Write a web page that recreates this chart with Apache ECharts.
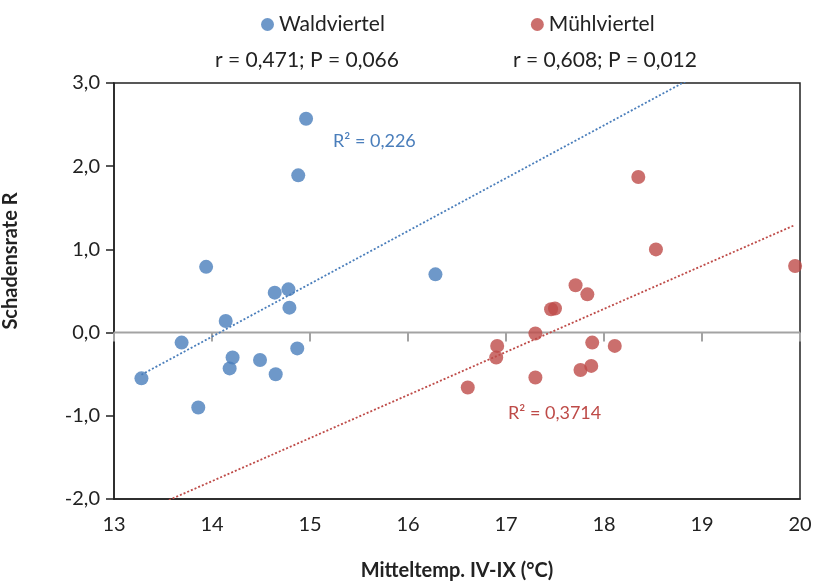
<!DOCTYPE html>
<html>
<head>
<meta charset="utf-8">
<script src="https://cdn.jsdelivr.net/npm/echarts@6/dist/echarts.min.js"></script>
<style>
  html, body { margin: 0; padding: 0; background: #fff; }
  #chart { width: 819px; height: 587px; }
</style>
</head>
<body>
<div id="chart"></div>
<script>
// Waldviertel: mean temp IV-IX vs damage rate
const waldX = [14.96, 14.88, 13.94, 16.28, 14.64, 14.78, 14.79, 14.14, 13.69, 14.21, 14.18, 14.49, 14.87, 14.65, 13.28, 13.86]
const waldY = [2.57, 1.89, 0.79, 0.70, 0.48, 0.52, 0.30, 0.14, -0.12, -0.30, -0.43, -0.33, -0.19, -0.50, -0.55, -0.90]
// Mühlviertel
const muehlX = [18.35, 18.53, 19.95, 17.71, 17.83, 17.46, 17.50, 17.30, 17.88, 18.11, 16.91, 16.90, 17.30, 17.76, 17.87, 16.61]
const muehlY = [1.87, 1.00, 0.80, 0.57, 0.46, 0.28, 0.29, -0.01, -0.12, -0.16, -0.16, -0.30, -0.54, -0.45, -0.40, -0.66]

const seriesNames = ['Waldviertel', 'Mühlviertel']
const statTexts = ['r = 0,471; P = 0,066', 'r = 0,608; P = 0,012']
const r2Texts = ['R² = 0,226', 'R² = 0,3714']
const xTicks = [13, 14, 15, 16, 17, 18, 19, 20]
const yTicks = [-2, -1, 0, 1, 2, 3]

const BLUE = '#4a7ebb'
const RED = '#be4b48'
const ZERO = '#a3a3a3'
const FONT = 'Lato'

function pairs (xs, ys) {
    return xs.map((x, i) => [x, ys[i]])
}

// least squares fit, Excel style trend line
function fit (xs, ys) {
    const n = xs.length
    const mx = xs.reduce((a, b) => a + b, 0) / n
    const my = ys.reduce((a, b) => a + b, 0) / n
    let sxy = 0
    let sxx = 0
    xs.forEach((x, i) => {
        sxy += (x - mx) * (ys[i] - my)
        sxx += (x - mx) * (x - mx)
    })
    const k = sxy / sxx
    return x => my + k * (x - mx)
}

const xMin = xTicks[0]
const xMax = xTicks[xTicks.length - 1]
const yMin = yTicks[0]
const yMax = yTicks[yTicks.length - 1]
const fWald = fit(waldX, waldY)
const fMuehl = fit(muehlX, muehlY)
// blue forecast forward to axis end, red backward to axis start
const waldStart = Math.min(...waldX)
const muehlEnd = Math.max(...muehlX)
const waldTrend = [[waldStart, fWald(waldStart)], [xMax, fWald(xMax)]]
const muehlTrend = [[xMin, fMuehl(xMin)], [muehlEnd, fMuehl(muehlEnd)]]

const comma = v => v.toFixed(1).replace('.', ',')

const chart = echarts.init(document.getElementById('chart'), null, { renderer: 'canvas' })

const option = {
    backgroundColor: '#fff',
    animation: false,
    textStyle: { fontFamily: FONT },
    grid: {
        left: 114, right: 19, top: 83, bottom: 88,
        show: true, borderColor: '#222', borderWidth: 1.5
    },
    legend: {
        data: seriesNames,
        left: 256,
        top: 9,
        icon: 'circle',
        itemWidth: 13,
        itemHeight: 13,
        itemGap: 146,
        textStyle: { fontFamily: FONT, fontSize: 21, color: '#222' }
    },
    xAxis: [{
        type: 'value',
        min: xMin,
        max: xMax,
        interval: 1,
        position: 'bottom',
        axisLine: { onZero: false, lineStyle: { color: '#222', width: 1.5 } },
        axisTick: { show: false },
        splitLine: { show: false },
        axisLabel: { margin: 16, fontSize: 20, color: '#222', fontFamily: FONT },
        name: 'Mitteltemp. IV-IX (°C)',
        nameLocation: 'middle',
        nameGap: 62,
        nameTextStyle: { fontSize: 20, fontWeight: 'bold', color: '#222', fontFamily: FONT }
    }],
    yAxis: {
        type: 'value',
        min: yMin,
        max: yMax,
        interval: 1,
        axisLine: { show: true, onZero: false, lineStyle: { color: '#222', width: 1.5 } },
        axisTick: { show: true, length: 8, lineStyle: { color: '#222', width: 1.5 } },
        splitLine: { show: false },
        axisLabel: { margin: 14, fontSize: 20, color: '#222', fontFamily: FONT, formatter: comma }
    },
    graphic: [
        {
            type: 'text', left: 215, top: 50,
            style: { text: statTexts[0], font: '21px ' + FONT, fill: '#222' }
        },
        {
            type: 'text', left: 513, top: 50,
            style: { text: statTexts[1], font: '21px ' + FONT, fill: '#222' }
        },
        {
            type: 'text', left: 333, top: 132,
            style: { text: r2Texts[0], font: '18px ' + FONT, fill: BLUE }
        },
        {
            type: 'text', left: 508, top: 404,
            style: { text: r2Texts[1], font: '18px ' + FONT, fill: RED }
        },
        {
            type: 'text', x: 11, y: 261, rotation: Math.PI / 2,
            style: {
                text: 'Schadensrate R', font: 'bold 20px ' + FONT, fill: '#222',
                align: 'center', verticalAlign: 'middle'
            }
        }
    ],
    series: [
        {
            // horizontal axis crossing at y = 0, with its tick marks
            name: 'zero-axis',
            type: 'custom',
            silent: true,
            data: xTicks.map(t => [t, 0]),
            renderItem (params, api) {
                const p = api.coord([api.value(0), 0])
                const children = [{
                    type: 'rect',
                    shape: { x: p[0] - 1, y: p[1], width: 2, height: 9 },
                    style: { fill: ZERO }
                }]
                if (params.dataIndex === 0) {
                    const q = api.coord([xMax, 0])
                    children.push({
                        type: 'line',
                        shape: { x1: p[0], y1: p[1], x2: q[0], y2: q[1] },
                        style: { stroke: ZERO, lineWidth: 2 }
                    })
                }
                return { type: 'group', children }
            },
            z: 2
        },
        {
            name: seriesNames[0],
            type: 'scatter',
            symbolSize: 14,
            itemStyle: { color: BLUE },
            data: pairs(waldX, waldY),
            z: 5
        },
        {
            name: seriesNames[1],
            type: 'scatter',
            symbolSize: 14,
            itemStyle: { color: RED },
            data: pairs(muehlX, muehlY),
            z: 5
        },
        {
            name: 'trend-wald',
            type: 'line',
            showSymbol: false,
            clip: true,
            lineStyle: { color: BLUE, width: 1.8, type: [2, 2] },
            data: waldTrend,
            z: 3
        },
        {
            name: 'trend-muehl',
            type: 'line',
            showSymbol: false,
            clip: true,
            lineStyle: { color: RED, width: 1.8, type: [2, 2] },
            data: muehlTrend,
            z: 3
        }
    ]
}

chart.setOption(option)
</script>
</body>
</html>
